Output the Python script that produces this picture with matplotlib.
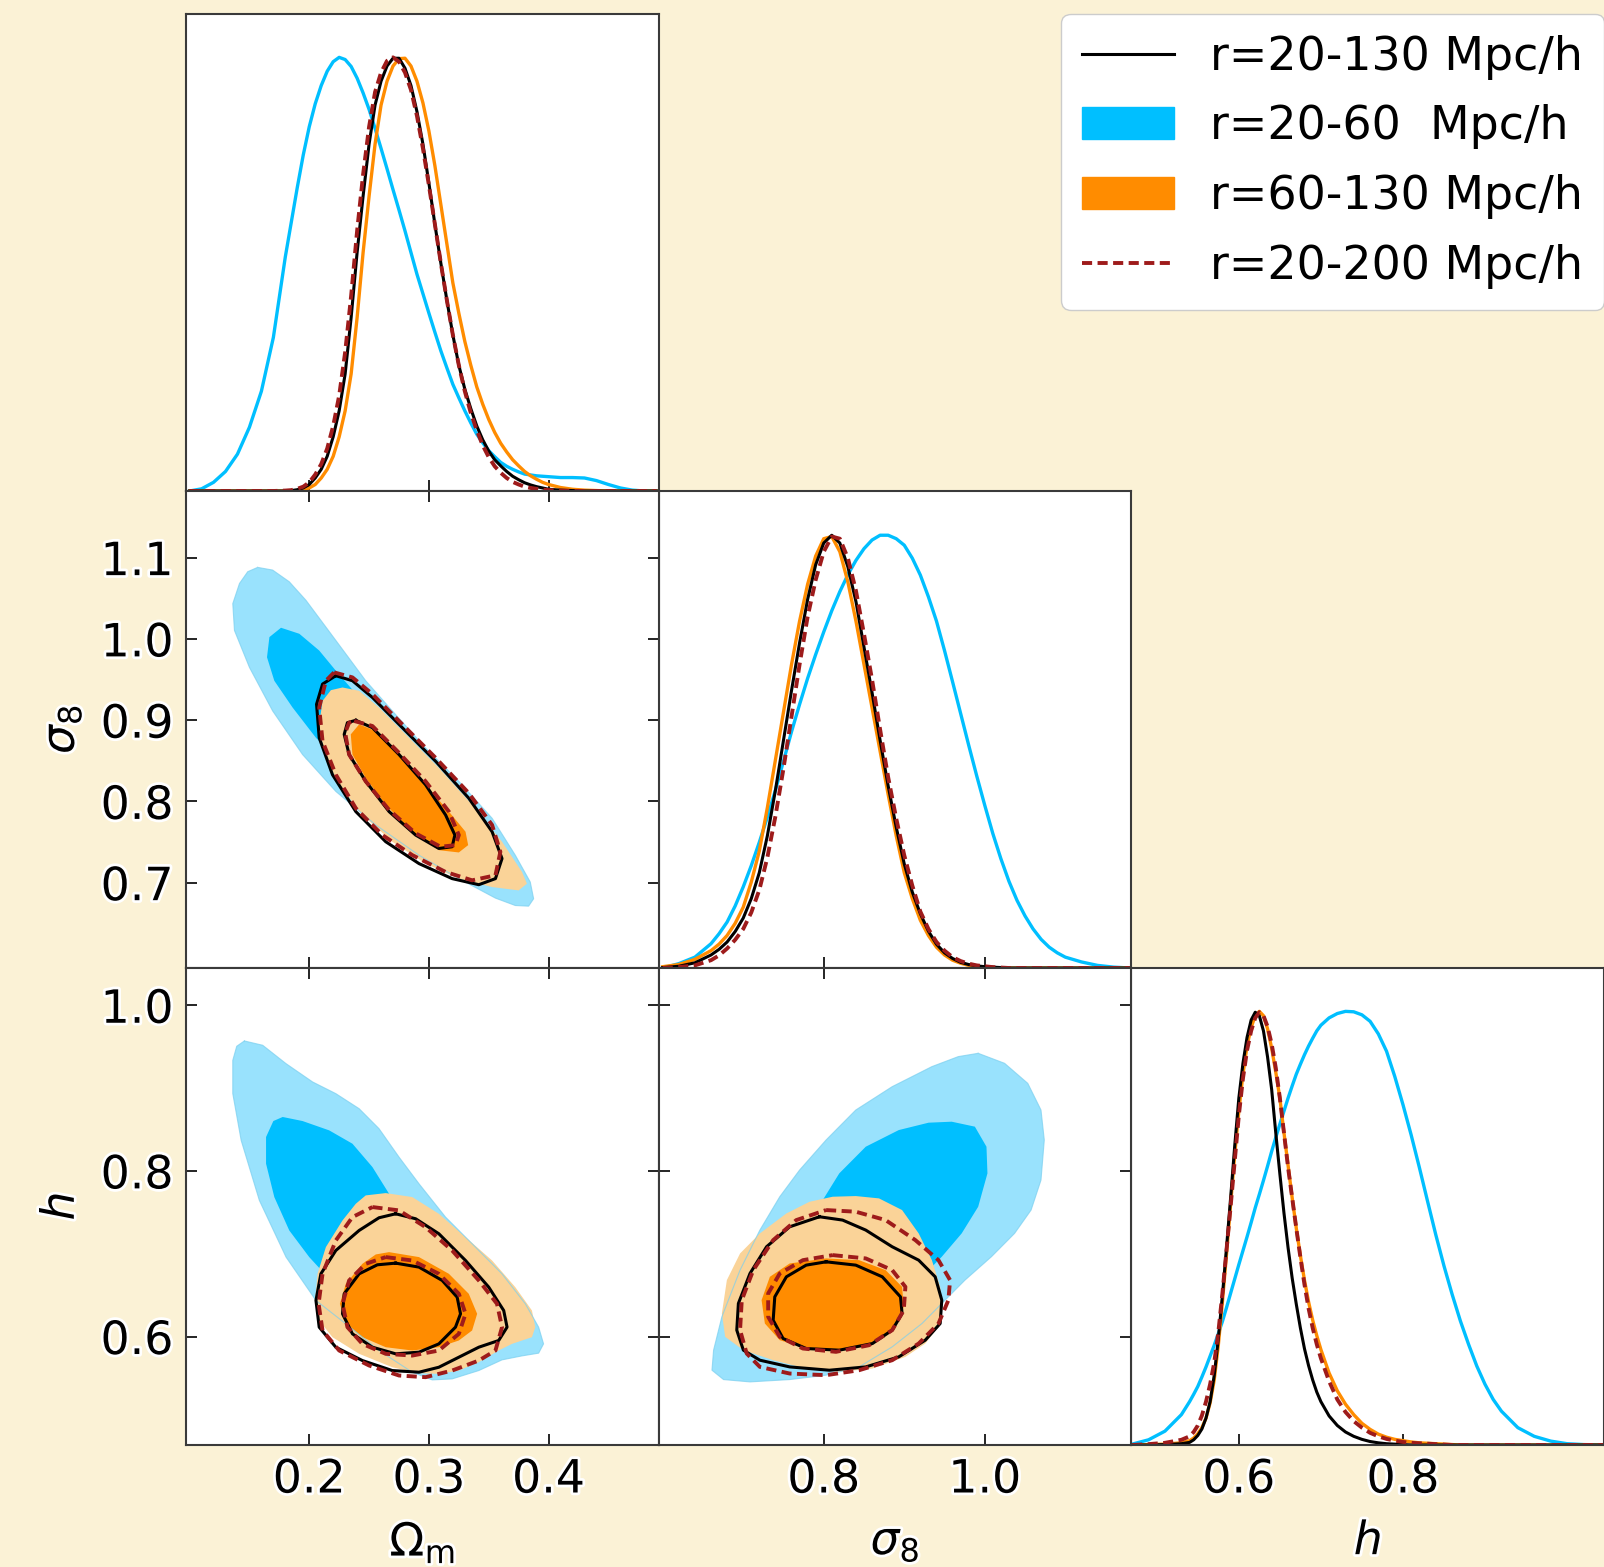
import matplotlib
matplotlib.use("Agg")
import matplotlib.pyplot as plt
import matplotlib.patheffects as pe
from matplotlib.patches import Patch
from matplotlib.lines import Line2D

# ---- 1D marginal posteriors (peak normalised) ----
om_grid = [0.10, 0.11, 0.12, 0.13, 0.14, 0.15, 0.16, 0.17, 0.18,
           0.185, 0.19, 0.195, 0.20, 0.205, 0.21, 0.215, 0.22, 0.225, 0.23,
           0.235, 0.24, 0.245, 0.25, 0.255, 0.26, 0.265, 0.27, 0.275, 0.28,
           0.285, 0.29, 0.295, 0.30, 0.305, 0.31, 0.315, 0.32, 0.325, 0.33,
           0.335, 0.34, 0.345, 0.35, 0.355, 0.36, 0.365, 0.37, 0.375, 0.38,
           0.385, 0.39, 0.395, 0.40,
           0.41, 0.42, 0.43, 0.44, 0.45, 0.46, 0.47, 0.48, 0.49]
om_cyan = [0, 0.005, 0.02, 0.045, 0.085, 0.147, 0.23, 0.354, 0.54,
           0.62, 0.70, 0.775, 0.84, 0.893, 0.935, 0.968, 0.99, 1.0, 0.995,
           0.979, 0.952, 0.918, 0.88, 0.836, 0.79, 0.743, 0.695, 0.648, 0.60,
           0.55, 0.50, 0.455, 0.41, 0.366, 0.323, 0.284, 0.246, 0.215, 0.185,
           0.157, 0.131, 0.111, 0.093, 0.079, 0.066, 0.057, 0.05, 0.044, 0.039,
           0.037, 0.035, 0.034, 0.033,
           0.031, 0.031, 0.03, 0.024, 0.015, 0.007, 0.002, 0, 0]
om_black = [0, 0, 0, 0, 0, 0, 0, 0, 0,
            0.001, 0.003, 0.007, 0.015, 0.03, 0.05, 0.08, 0.125, 0.185, 0.27,
            0.40, 0.55, 0.68, 0.80, 0.89, 0.945, 0.98, 0.998, 0.998, 0.975,
            0.935, 0.875, 0.80, 0.71, 0.615, 0.525, 0.44, 0.36, 0.29, 0.235,
            0.19, 0.15, 0.118, 0.092, 0.072, 0.058, 0.045, 0.034, 0.026, 0.019,
            0.014, 0.01, 0.007, 0.004,
            0.002, 0.001, 0, 0, 0, 0, 0, 0, 0]
om_orange = [0, 0, 0, 0, 0, 0, 0, 0, 0,
             0, 0.001, 0.003, 0.007, 0.015, 0.03, 0.05, 0.08, 0.125, 0.185,
             0.27, 0.40, 0.55, 0.68, 0.80, 0.89, 0.945, 0.98, 0.997, 0.998,
             0.98, 0.945, 0.895, 0.83, 0.75, 0.66, 0.57, 0.48, 0.41, 0.345,
             0.29, 0.24, 0.20, 0.165, 0.135, 0.11, 0.09, 0.072, 0.058, 0.045,
             0.035, 0.027, 0.02, 0.015,
             0.008, 0.004, 0.002, 0.001, 0, 0, 0, 0, 0]
om_red = [0, 0, 0, 0, 0, 0, 0, 0, 0.001,
          0.002, 0.005, 0.01, 0.02, 0.038, 0.062, 0.098, 0.15, 0.22, 0.32,
          0.45, 0.60, 0.73, 0.84, 0.92, 0.965, 0.992, 1.0, 0.99, 0.965,
          0.925, 0.865, 0.79, 0.705, 0.615, 0.525, 0.44, 0.36, 0.29, 0.23,
          0.18, 0.14, 0.105, 0.078, 0.057, 0.042, 0.03, 0.021, 0.015, 0.01,
          0.007, 0.005, 0.003, 0.002,
          0.001, 0, 0, 0, 0, 0, 0, 0, 0]

s8_grid = [0.60, 0.62, 0.64,
           0.66, 0.67, 0.68, 0.69, 0.70, 0.71, 0.72, 0.73, 0.74, 0.75,
           0.76, 0.77, 0.78, 0.79, 0.80, 0.81, 0.82, 0.83, 0.84, 0.85,
           0.86, 0.87, 0.88, 0.89, 0.90, 0.91, 0.92, 0.93, 0.94, 0.95,
           0.96, 0.97, 0.98, 0.99, 1.00, 1.01, 1.02, 1.03, 1.04, 1.05,
           1.06, 1.07, 1.08, 1.09, 1.10,
           1.12, 1.14, 1.16, 1.18]
s8_cyan = [0, 0.01, 0.025,
           0.056, 0.079, 0.106, 0.143, 0.187, 0.236, 0.29, 0.348, 0.41, 0.477,
           0.545, 0.608, 0.668, 0.723, 0.775, 0.824, 0.868, 0.907, 0.94, 0.967,
           0.987, 0.998, 0.998, 0.99, 0.975, 0.945, 0.906, 0.856, 0.80, 0.732,
           0.66, 0.587, 0.514, 0.443, 0.375, 0.31, 0.252, 0.20, 0.156, 0.12,
           0.09, 0.066, 0.048, 0.035, 0.025,
           0.014, 0.006, 0.002, 0]
s8_orange = [0.003, 0.008, 0.02,
             0.04, 0.055, 0.075, 0.103, 0.14, 0.198, 0.27, 0.37, 0.48, 0.59,
             0.70, 0.80, 0.885, 0.95, 0.99, 0.995, 0.96, 0.89, 0.80, 0.70,
             0.60, 0.50, 0.40, 0.305, 0.22, 0.16, 0.11, 0.075, 0.048, 0.03,
             0.018, 0.011, 0.006, 0.004, 0.002, 0.001, 0, 0, 0, 0,
             0, 0, 0, 0, 0,
             0, 0, 0, 0]
s8_black = [0.001, 0.004, 0.012,
            0.03, 0.043, 0.06, 0.084, 0.115, 0.16, 0.22, 0.305, 0.41, 0.525,
            0.64, 0.75, 0.85, 0.93, 0.98, 0.998, 0.98, 0.925, 0.845, 0.74,
            0.635, 0.525, 0.42, 0.325, 0.24, 0.175, 0.125, 0.085, 0.055, 0.035,
            0.022, 0.013, 0.008, 0.005, 0.003, 0.002, 0.001, 0, 0, 0,
            0, 0, 0, 0, 0,
            0, 0, 0, 0]
s8_red = [0, 0.002, 0.006,
          0.018, 0.029, 0.045, 0.065, 0.09, 0.128, 0.18, 0.255, 0.35, 0.46,
          0.58, 0.70, 0.81, 0.895, 0.96, 0.995, 0.99, 0.945, 0.87, 0.77,
          0.665, 0.55, 0.44, 0.345, 0.26, 0.19, 0.13, 0.09, 0.06, 0.04,
          0.025, 0.016, 0.01, 0.006, 0.004, 0.002, 0.001, 0, 0, 0,
          0, 0, 0, 0, 0,
          0, 0, 0, 0]

h_grid = [0.47, 0.49, 0.51, 0.53,
          0.54, 0.545, 0.55, 0.555, 0.56, 0.565, 0.57, 0.575, 0.58, 0.585,
          0.59, 0.595, 0.60, 0.605, 0.61, 0.615, 0.62, 0.625, 0.63, 0.635,
          0.64, 0.645, 0.65, 0.655, 0.66, 0.665, 0.67, 0.675, 0.68, 0.685,
          0.69, 0.695, 0.70,
          0.71, 0.72, 0.73, 0.74, 0.75, 0.76, 0.77, 0.78, 0.79, 0.80,
          0.81, 0.82, 0.83, 0.84, 0.85, 0.86, 0.87, 0.88, 0.89, 0.90,
          0.91, 0.92,
          0.94, 0.96, 0.98, 1.00, 1.02, 1.045]
h_cyan = [0.002, 0.012, 0.032, 0.07,
          0.10, 0.117, 0.135, 0.157, 0.18, 0.205, 0.23, 0.257, 0.285, 0.317,
          0.35, 0.383, 0.416, 0.448, 0.48, 0.513, 0.547, 0.578, 0.61, 0.643,
          0.677, 0.709, 0.74, 0.77, 0.80, 0.828, 0.855, 0.878, 0.90, 0.92,
          0.938, 0.955, 0.968,
          0.985, 0.995, 1.0, 0.999, 0.992, 0.977, 0.948, 0.908, 0.85, 0.785,
          0.715, 0.64, 0.562, 0.485, 0.413, 0.347, 0.286, 0.232, 0.182, 0.14,
          0.105, 0.078,
          0.04, 0.02, 0.009, 0.003, 0.001, 0]
h_orange = [0, 0.001, 0.002, 0.005,
            0.01, 0.016, 0.026, 0.04, 0.062, 0.097, 0.15, 0.23, 0.33, 0.44,
            0.555, 0.67, 0.77, 0.855, 0.92, 0.963, 0.99, 1.0, 0.99, 0.96,
            0.915, 0.86, 0.80, 0.72, 0.645, 0.57, 0.50, 0.437, 0.38, 0.33,
            0.288, 0.252, 0.22,
            0.166, 0.125, 0.094, 0.07, 0.05, 0.036, 0.025, 0.018, 0.013, 0.01,
            0.007, 0.005, 0.004, 0.003, 0.002, 0.001, 0, 0, 0, 0,
            0, 0,
            0, 0, 0, 0, 0, 0]
h_black = [0, 0, 0.001, 0.003,
           0.006, 0.012, 0.022, 0.037, 0.062, 0.10, 0.16, 0.245, 0.345, 0.455,
           0.57, 0.69, 0.80, 0.88, 0.94, 0.98, 0.998, 0.99, 0.955, 0.895,
           0.82, 0.72, 0.625, 0.535, 0.455, 0.385, 0.325, 0.27, 0.222, 0.183,
           0.15, 0.122, 0.10,
           0.067, 0.045, 0.03, 0.02, 0.013, 0.008, 0.005, 0.003, 0.002, 0.001,
           0, 0, 0, 0, 0, 0, 0, 0, 0, 0,
           0, 0,
           0, 0, 0, 0, 0, 0]
h_red = [0, 0.002, 0.005, 0.012,
         0.02, 0.03, 0.045, 0.068, 0.10, 0.14, 0.19, 0.26, 0.35, 0.45,
         0.55, 0.655, 0.76, 0.845, 0.91, 0.955, 0.985, 0.998, 0.99, 0.965,
         0.925, 0.87, 0.80, 0.72, 0.64, 0.57, 0.50, 0.433, 0.37, 0.315,
         0.27, 0.232, 0.20,
         0.147, 0.105, 0.076, 0.055, 0.04, 0.028, 0.02, 0.014, 0.01, 0.007,
         0.005, 0.004, 0.003, 0.002, 0.001, 0, 0, 0, 0, 0,
         0, 0,
         0, 0, 0, 0, 0, 0]

# ---- 2D contours (68% / 95%), outline vertices ----
# Omega_m vs sigma_8
om_s8_cyan_out = [(0.1569, 1.088), (0.1694, 1.0847), (0.1833, 1.0703), (0.1972, 1.0476),
                  (0.2139, 1.0146), (0.2306, 0.9815), (0.2472, 0.9485), (0.2694, 0.9114),
                  (0.2972, 0.8659), (0.3250, 0.8247), (0.3528, 0.7793), (0.3722, 0.7338),
                  (0.3847, 0.7008), (0.3875, 0.6802), (0.3833, 0.6711), (0.3722, 0.6719),
                  (0.3556, 0.6810), (0.3250, 0.7050), (0.2917, 0.7338), (0.2556, 0.7710),
                  (0.2222, 0.8123), (0.1944, 0.8577), (0.1694, 0.9114), (0.1500, 0.9650),
                  (0.1375, 1.0104), (0.1361, 1.0434), (0.1417, 1.0682), (0.1486, 1.0827)]
om_s8_cyan_in = [(0.1764, 1.0137), (0.1917, 1.0063), (0.2083, 0.9857), (0.2222, 0.9609),
                 (0.2417, 0.9279), (0.2694, 0.8866), (0.2972, 0.8412), (0.3194, 0.8000),
                 (0.3278, 0.7710), (0.3194, 0.7545), (0.2972, 0.7669), (0.2639, 0.8000),
                 (0.2306, 0.8412), (0.2056, 0.8783), (0.1861, 0.9155), (0.1708, 0.9485),
                 (0.1647, 0.9774), (0.1667, 1.0022)]
om_s8_orange_out = [(0.2278, 0.9402), (0.2417, 0.9361), (0.2583, 0.9155), (0.2806, 0.8825),
                    (0.3083, 0.8412), (0.3361, 0.7958), (0.3611, 0.7504), (0.3778, 0.7132),
                    (0.3819, 0.6988), (0.3750, 0.6905), (0.3528, 0.6946), (0.3250, 0.7050),
                    (0.2972, 0.7235), (0.2694, 0.7504), (0.2444, 0.7834), (0.2250, 0.8205),
                    (0.2125, 0.8577), (0.2083, 0.8948), (0.2111, 0.9237), (0.2181, 0.9369)]
om_s8_orange_in = [(0.2417, 0.8948), (0.2556, 0.8866), (0.2750, 0.8577), (0.2972, 0.8205),
                   (0.3167, 0.7875), (0.3306, 0.7627), (0.3328, 0.7462), (0.3250, 0.7372),
                   (0.3083, 0.7400), (0.2861, 0.7627), (0.2639, 0.7958), (0.2472, 0.8288),
                   (0.2361, 0.8577), (0.2347, 0.8825)]
om_s8_black_out = [(0.2222, 0.9547), (0.2361, 0.9485), (0.2528, 0.9279), (0.2778, 0.8907),
                   (0.3056, 0.8494), (0.3333, 0.8040), (0.3528, 0.7627), (0.3611, 0.7297),
                   (0.3556, 0.7050), (0.3417, 0.6975), (0.3194, 0.7050), (0.2917, 0.7235),
                   (0.2639, 0.7504), (0.2389, 0.7875), (0.2194, 0.8329), (0.2083, 0.8783),
                   (0.2061, 0.9196), (0.2111, 0.9444)]
om_s8_black_in = [(0.2389, 0.8998), (0.2528, 0.8907), (0.2750, 0.8577), (0.2972, 0.8205),
                  (0.3139, 0.7834), (0.3217, 0.7586), (0.3194, 0.7442), (0.3083, 0.7421),
                  (0.2889, 0.7586), (0.2667, 0.7875), (0.2472, 0.8247), (0.2333, 0.8577),
                  (0.2292, 0.8825), (0.2319, 0.8969)]
om_s8_red_out = [(0.2208, 0.9588), (0.2361, 0.9526), (0.2528, 0.9320), (0.2778, 0.8948),
                 (0.3056, 0.8536), (0.3333, 0.8102), (0.3528, 0.7710), (0.3597, 0.7380),
                 (0.3556, 0.7091), (0.3361, 0.7029), (0.3139, 0.7132), (0.2861, 0.7339),
                 (0.2611, 0.7586), (0.2389, 0.7916), (0.2222, 0.8329), (0.2111, 0.8742),
                 (0.2083, 0.9155), (0.2139, 0.9485)]
om_s8_red_in = [(0.2375, 0.8990), (0.2528, 0.8928), (0.2750, 0.8598), (0.2972, 0.8247),
                (0.3167, 0.7875), (0.3250, 0.7586), (0.3222, 0.7462), (0.3097, 0.7442),
                (0.2889, 0.7607), (0.2667, 0.7896), (0.2472, 0.8247), (0.2333, 0.8577),
                (0.2300, 0.8845), (0.2333, 0.8969)]

# Omega_m vs h
om_h_cyan_out = [(0.1458, 0.9569), (0.1611, 0.9517), (0.1806, 0.9295), (0.2028, 0.9074),
                 (0.2222, 0.8933), (0.2417, 0.8751), (0.2583, 0.8510), (0.2750, 0.8167),
                 (0.2917, 0.7845), (0.3139, 0.7442), (0.3361, 0.7120), (0.3611, 0.6757),
                 (0.3806, 0.6395), (0.3917, 0.6113), (0.3958, 0.5911), (0.3917, 0.5799),
                 (0.3778, 0.5766), (0.3611, 0.5718), (0.3417, 0.5589), (0.3194, 0.5488),
                 (0.3028, 0.5476), (0.2861, 0.5569), (0.2583, 0.5831), (0.2306, 0.6153),
                 (0.2056, 0.6435), (0.1806, 0.6959), (0.1583, 0.7644), (0.1431, 0.8369),
                 (0.1361, 0.8933), (0.1361, 0.9335), (0.1394, 0.9505)]
om_h_cyan_in = [(0.1778, 0.8651), (0.1944, 0.8602), (0.2167, 0.8489), (0.2361, 0.8328),
                (0.2528, 0.8046), (0.2667, 0.7724), (0.2806, 0.7362), (0.2861, 0.6999),
                (0.2806, 0.6637), (0.2639, 0.6435), (0.2389, 0.6495), (0.2167, 0.6697),
                (0.2000, 0.6959), (0.1833, 0.7281), (0.1708, 0.7684), (0.1639, 0.8087),
                (0.1639, 0.8409), (0.1700, 0.8602)]
om_h_orange_out = [(0.2472, 0.7704), (0.2639, 0.7732), (0.2861, 0.7684), (0.3083, 0.7482),
                   (0.3306, 0.7200), (0.3528, 0.6918), (0.3722, 0.6596), (0.3861, 0.6314),
                   (0.3889, 0.6113), (0.3861, 0.5992), (0.3694, 0.5911), (0.3583, 0.5831),
                   (0.3417, 0.5690), (0.3250, 0.5589), (0.3083, 0.5549), (0.2917, 0.5557),
                   (0.2694, 0.5629), (0.2417, 0.5791), (0.2194, 0.5992), (0.2083, 0.6193),
                   (0.2050, 0.6435), (0.2069, 0.6757), (0.2139, 0.7080), (0.2278, 0.7402),
                   (0.2389, 0.7603)]
om_h_orange_in = [(0.2667, 0.7019), (0.2917, 0.6959), (0.3167, 0.6757), (0.3333, 0.6516),
                  (0.3403, 0.6274), (0.3361, 0.6073), (0.3250, 0.5952), (0.3083, 0.5871),
                  (0.2861, 0.5831), (0.2639, 0.5871), (0.2444, 0.5992), (0.2306, 0.6153),
                  (0.2256, 0.6395), (0.2306, 0.6637), (0.2444, 0.6878), (0.2556, 0.6991)]
om_h_black_out = [(0.2722, 0.7482), (0.2889, 0.7422), (0.3083, 0.7241), (0.3306, 0.6918),
                  (0.3500, 0.6596), (0.3625, 0.6314), (0.3653, 0.6113), (0.3583, 0.5952),
                  (0.3417, 0.5871), (0.3250, 0.5750), (0.3083, 0.5629), (0.2917, 0.5569),
                  (0.2694, 0.5589), (0.2444, 0.5710), (0.2222, 0.5871), (0.2083, 0.6113),
                  (0.2056, 0.6435), (0.2097, 0.6757), (0.2222, 0.7039), (0.2417, 0.7281),
                  (0.2583, 0.7434)]
om_h_black_in = [(0.2722, 0.6886), (0.2917, 0.6838), (0.3111, 0.6677), (0.3236, 0.6475),
                 (0.3264, 0.6274), (0.3222, 0.6113), (0.3083, 0.5911), (0.2917, 0.5811),
                 (0.2722, 0.5791), (0.2528, 0.5871), (0.2361, 0.6032), (0.2278, 0.6274),
                 (0.2292, 0.6516), (0.2417, 0.6757), (0.2569, 0.6866)]
om_h_red_out = [(0.2528, 0.7563), (0.2750, 0.7523), (0.2972, 0.7321), (0.3194, 0.7039),
                (0.3417, 0.6677), (0.3569, 0.6395), (0.3611, 0.6113), (0.3556, 0.5831),
                (0.3417, 0.5710), (0.3194, 0.5589), (0.2972, 0.5509), (0.2750, 0.5529),
                (0.2500, 0.5650), (0.2250, 0.5831), (0.2111, 0.6073), (0.2078, 0.6395),
                (0.2111, 0.6757), (0.2222, 0.7160), (0.2361, 0.7442)]
om_h_red_in = [(0.2639, 0.6959), (0.2861, 0.6918), (0.3083, 0.6757), (0.3250, 0.6516),
               (0.3306, 0.6274), (0.3250, 0.6032), (0.3083, 0.5831), (0.2861, 0.5770),
               (0.2639, 0.5791), (0.2444, 0.5911), (0.2319, 0.6113), (0.2278, 0.6395),
               (0.2333, 0.6677), (0.2472, 0.6878)]

# sigma_8 vs h
s8_h_cyan_out = [(0.9918, 0.9420), (1.0246, 0.9299), (1.0534, 0.9057), (1.0698, 0.8735),
                 (1.0739, 0.8373), (1.0698, 0.7889), (1.0575, 0.7527), (1.0370, 0.7245),
                 (1.0082, 0.6963), (0.9754, 0.6681), (0.9507, 0.6439), (0.9220, 0.6157),
                 (0.8850, 0.5875), (0.8439, 0.5633), (0.8029, 0.5533), (0.7577, 0.5480),
                 (0.7084, 0.5452), (0.6756, 0.5480), (0.6612, 0.5593), (0.6632, 0.5835),
                 (0.6735, 0.6238), (0.6961, 0.6802), (0.7207, 0.7285), (0.7454, 0.7688),
                 (0.7700, 0.8010), (0.8029, 0.8373), (0.8398, 0.8735), (0.8850, 0.9017),
                 (0.9343, 0.9259), (0.9671, 0.9380)]
s8_h_cyan_in = [(0.9589, 0.8594), (0.9877, 0.8534), (1.0021, 0.8292), (1.0033, 0.7970),
                (0.9918, 0.7567), (0.9713, 0.7245), (0.9466, 0.6963), (0.9220, 0.6721),
                (0.8932, 0.6540), (0.8604, 0.6479), (0.8275, 0.6641), (0.8049, 0.7003),
                (0.7947, 0.7366), (0.7988, 0.7648), (0.8193, 0.7970), (0.8522, 0.8292),
                (0.8932, 0.8493), (0.9302, 0.8582)]
s8_h_orange_out = [(0.8111, 0.7688), (0.8398, 0.7696), (0.8686, 0.7668), (0.8973, 0.7527),
                   (0.9179, 0.7245), (0.9343, 0.6922), (0.9446, 0.6600), (0.9466, 0.6359),
                   (0.9425, 0.6117), (0.9261, 0.5915), (0.9014, 0.5754), (0.8604, 0.5613),
                   (0.8193, 0.5573), (0.7782, 0.5613), (0.7372, 0.5714), (0.7002, 0.5835),
                   (0.6776, 0.5996), (0.6735, 0.6278), (0.6797, 0.6681), (0.6961, 0.7003),
                   (0.7207, 0.7245), (0.7536, 0.7486), (0.7823, 0.7627)]
s8_h_orange_in = [(0.8029, 0.6943), (0.8439, 0.6922), (0.8768, 0.6802), (0.8973, 0.6600),
                  (0.8994, 0.6359), (0.8891, 0.6117), (0.8604, 0.5915), (0.8193, 0.5835),
                  (0.7782, 0.5855), (0.7454, 0.5956), (0.7269, 0.6157), (0.7228, 0.6439),
                  (0.7331, 0.6721), (0.7577, 0.6882)]
s8_h_black_out = [(0.7947, 0.7446), (0.8234, 0.7406), (0.8522, 0.7285), (0.8850, 0.7084),
                  (0.9179, 0.6922), (0.9384, 0.6721), (0.9466, 0.6439), (0.9446, 0.6157),
                  (0.9261, 0.5956), (0.8932, 0.5754), (0.8522, 0.5633), (0.8070, 0.5593),
                  (0.7577, 0.5633), (0.7207, 0.5714), (0.7002, 0.5835), (0.6920, 0.6077),
                  (0.6940, 0.6399), (0.7084, 0.6761), (0.7290, 0.7084), (0.7577, 0.7325)]
s8_h_black_in = [(0.8029, 0.6902), (0.8398, 0.6862), (0.8727, 0.6721), (0.8953, 0.6479),
                 (0.8973, 0.6278), (0.8850, 0.6077), (0.8604, 0.5915), (0.8193, 0.5835),
                 (0.7782, 0.5855), (0.7495, 0.5976), (0.7372, 0.6197), (0.7392, 0.6479),
                 (0.7536, 0.6721), (0.7782, 0.6862)]
s8_h_red_out = [(0.8029, 0.7527), (0.8398, 0.7507), (0.8768, 0.7406), (0.9138, 0.7164),
                (0.9425, 0.6922), (0.9569, 0.6681), (0.9548, 0.6439), (0.9425, 0.6157),
                (0.9179, 0.5915), (0.8850, 0.5714), (0.8439, 0.5593), (0.8029, 0.5533),
                (0.7577, 0.5553), (0.7207, 0.5633), (0.7043, 0.5795), (0.6961, 0.6077),
                (0.6982, 0.6439), (0.7125, 0.6802), (0.7372, 0.7164), (0.7659, 0.7406)]
s8_h_red_in = [(0.8111, 0.6983), (0.8522, 0.6943), (0.8850, 0.6802), (0.9014, 0.6600),
               (0.8994, 0.6318), (0.8850, 0.6077), (0.8563, 0.5895), (0.8152, 0.5815),
               (0.7741, 0.5855), (0.7454, 0.5996), (0.7310, 0.6238), (0.7310, 0.6520),
               (0.7454, 0.6761), (0.7741, 0.6922)]

labels = ["r=20-130 Mpc/h", "r=20-60  Mpc/h", "r=60-130 Mpc/h", "r=20-200 Mpc/h"]

# colours
CYAN, CYAN_L = "#00BFFF", "#99E2FD"
ORANGE, ORANGE_L = "#FF8C00", "#FAD398"
RED = "#9E1B1B"
BG = "#FBF2D6"
DASH = (0, (2.6, 1.4))

om_lim = (0.097, 0.492)
s8_lim = (0.595, 1.182)
h_lim = (0.469, 1.045)
om_ticks = [0.2, 0.3, 0.4]
s8_ticks = [0.8, 1.0]
s8_yticks = [0.7, 0.8, 0.9, 1.0, 1.1]
h_xticks = [0.6, 0.8]
h_yticks = [0.6, 0.8, 1.0]

FS = 33
halo = [pe.withStroke(linewidth=4, foreground="white")]

fig = plt.figure(figsize=(16.04, 15.67), dpi=100)
fig.patch.set_facecolor(BG)

W = (1604 - 186) / 3 / 1604
H = 477 / 1567
lefts = [186 / 1604, 186 / 1604 + W, 186 / 1604 + 2 * W]
bottoms = [1 - 491 / 1567, 1 - 968 / 1567, 1 - 1445 / 1567]


def make_ax(row, col):
    ax = fig.add_axes([lefts[col], bottoms[row], W, H])
    ax.set_facecolor("white")
    for s in ax.spines.values():
        s.set_color("#3a3a3a")
        s.set_linewidth(1.5)
    return ax


def style(ax, xlim, xticks, ylim=None, yticks=None, diag=False,
          xlab=False, ylab=False):
    ax.set_xlim(xlim)
    ax.set_xticks(xticks)
    if diag:
        ax.set_ylim(0, 1.1)
        ax.set_yticks([])
        ax.tick_params(axis="x", direction="in", length=8, width=1.2,
                       labelsize=FS, pad=9, labelbottom=xlab)
    else:
        ax.set_ylim(ylim)
        ax.set_yticks(yticks)
        ax.tick_params(direction="in", length=8, width=1.2, labelsize=FS,
                       pad=9, top=True, right=True,
                       labelbottom=xlab, labelleft=ylab)
    for t in ax.get_xticklabels() + ax.get_yticklabels():
        t.set_path_effects(halo)


def draw_1d(ax, grid, cy, orng, blk, red):
    ax.plot(grid, cy, color=CYAN, lw=2.4)
    ax.plot(grid, orng, color=ORANGE, lw=2.4)
    ax.plot(grid, blk, color="black", lw=2.2)
    ax.plot(grid, red, color=RED, lw=2.8, ls=DASH)


def fill(ax, pts, color, z):
    xs = [p[0] for p in pts]
    ys = [p[1] for p in pts]
    ax.fill(xs, ys, color=color, lw=0, zorder=z)


def outline(ax, pts, color, z, ls="-", lw=2.2, alpha=1.0):
    xs = [p[0] for p in pts] + [pts[0][0]]
    ys = [p[1] for p in pts] + [pts[0][1]]
    ax.plot(xs, ys, color=color, lw=lw, ls=ls, zorder=z, alpha=alpha,
            solid_joinstyle="round", dash_joinstyle="round")


def draw_2d(ax, c_out, c_in, o_out, o_in, b_out, b_in, r_out, r_in):
    fill(ax, c_out, CYAN_L, 1)
    fill(ax, c_in, CYAN, 2)
    fill(ax, o_out, ORANGE_L, 3)
    fill(ax, o_in, ORANGE, 4)
    outline(ax, c_out, "#7ACFEF", 5, lw=0.8, alpha=0.7)
    outline(ax, b_out, "black", 6)
    outline(ax, b_in, "black", 6)
    outline(ax, r_out, RED, 7, ls=DASH, lw=2.8)
    outline(ax, r_in, RED, 7, ls=DASH, lw=2.8)


# diagonal
ax00 = make_ax(0, 0)
draw_1d(ax00, om_grid, om_cyan, om_orange, om_black, om_red)
style(ax00, om_lim, om_ticks, diag=True)

ax11 = make_ax(1, 1)
draw_1d(ax11, s8_grid, s8_cyan, s8_orange, s8_black, s8_red)
style(ax11, s8_lim, s8_ticks, diag=True)

ax22 = make_ax(2, 2)
draw_1d(ax22, h_grid, h_cyan, h_orange, h_black, h_red)
style(ax22, h_lim, h_xticks, diag=True, xlab=True)
ax22.set_xlabel(r"$h$", fontsize=FS, labelpad=12)

# off-diagonal
ax10 = make_ax(1, 0)
draw_2d(ax10, om_s8_cyan_out, om_s8_cyan_in, om_s8_orange_out, om_s8_orange_in,
        om_s8_black_out, om_s8_black_in, om_s8_red_out, om_s8_red_in)
style(ax10, om_lim, om_ticks, s8_lim, s8_yticks, ylab=True)
ax10.set_ylabel(r"$\sigma_8$", fontsize=FS, labelpad=12)

ax20 = make_ax(2, 0)
draw_2d(ax20, om_h_cyan_out, om_h_cyan_in, om_h_orange_out, om_h_orange_in,
        om_h_black_out, om_h_black_in, om_h_red_out, om_h_red_in)
style(ax20, om_lim, om_ticks, h_lim, h_yticks, xlab=True, ylab=True)
ax20.set_xlabel(r"$\Omega_{\rm m}$", fontsize=FS, labelpad=12)
ax20.set_ylabel(r"$h$", fontsize=FS, labelpad=12)

ax21 = make_ax(2, 1)
draw_2d(ax21, s8_h_cyan_out, s8_h_cyan_in, s8_h_orange_out, s8_h_orange_in,
        s8_h_black_out, s8_h_black_in, s8_h_red_out, s8_h_red_in)
style(ax21, s8_lim, s8_ticks, h_lim, h_yticks, xlab=True)
ax21.set_xlabel(r"$\sigma_8$", fontsize=FS, labelpad=12)

for ax in (ax10, ax20):
    ax.yaxis.label.set_path_effects(halo)
for ax in (ax20, ax21, ax22):
    ax.xaxis.label.set_path_effects(halo)

handles = [Line2D([], [], color="black", lw=2.2),
           Patch(facecolor=CYAN, edgecolor=CYAN),
           Patch(facecolor=ORANGE, edgecolor=ORANGE),
           Line2D([], [], color=RED, lw=2.8, ls=DASH)]
leg = fig.legend(handles, labels, loc="upper right",
                 bbox_to_anchor=(1.0, 1 - 14 / 1567), fontsize=33,
                 frameon=True, fancybox=True, framealpha=1,
                 edgecolor="#cccccc", handlelength=2.0, borderaxespad=0,
                 labelspacing=0.54, borderpad=0.45, handletextpad=0.8)

plt.savefig("out.png", dpi=100, facecolor=BG)
